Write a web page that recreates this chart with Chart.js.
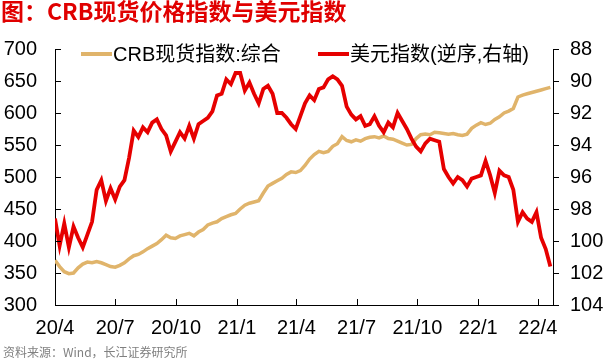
<!DOCTYPE html>
<html>
<head>
<meta charset="utf-8">
<script src="https://cdn.jsdelivr.net/npm/chart.js@4/dist/chart.umd.min.js"></script>
<style>
  html, body { margin: 0; padding: 0; background: #fff; }
</style>
</head>
<body>
<canvas id="myChart" width="605" height="362"></canvas>
<script>
// x axis: days since 2020-04-01, ticks at quarter starts
var tickDays = [0, 91, 183, 275, 365, 456, 548, 640, 730];
var tickLabels = ['20/4', '20/7', '20/10', '21/1', '21/4', '21/7', '21/10', '22/1', '22/4'];

// weekly readings (week 0 = 2020-04-01)
var crb = [
  370, 360, 352, 349, 350, 358, 364, 367, 366, 368,
  366, 363, 360, 359, 362, 366, 372, 377, 379, 383,
  388, 392, 396, 402, 409, 405, 404, 408, 410, 412,
  408, 414, 418, 425, 428, 430, 435, 438, 441, 443,
  450, 456, 459, 461, 463, 475, 486, 490, 494, 498,
  504, 508, 507, 510, 518, 528, 535, 540, 538, 540,
  548, 552, 563, 557, 555, 558, 556, 560, 562, 563,
  561, 564, 560, 559, 556, 553, 550, 551, 560, 566,
  567, 566, 570, 569, 568, 567, 568, 566, 565, 567,
  576, 581, 585, 582, 584, 590, 594, 600, 603, 607,
  625, 628, 630, 632, 634, 636, 638, 640
];
var usd = [
  98.6, 100.3, 98.9, 100.4, 99.1, 99.8, 100.4, 99.6, 98.8, 96.8,
  96.2, 97.5, 96.7, 97.4, 96.6, 96.2, 94.8, 93.1, 93.5, 92.9,
  93.2, 92.6, 92.4, 93.0, 93.4, 94.4, 93.8, 93.2, 93.6, 92.8,
  93.6, 92.7, 92.5, 92.3, 91.9, 90.9, 90.8, 89.9, 90.2, 89.5,
  89.5, 90.6, 90.1, 90.8, 91.4, 90.5, 90.3, 90.8, 92.0, 92.0,
  92.3, 92.7, 93.0, 92.2, 91.4, 90.9, 91.2, 90.5, 90.4, 89.9,
  89.7, 89.9, 90.3, 91.6, 92.1, 92.4, 92.2, 92.8, 92.7, 92.2,
  92.8, 93.2, 92.6, 92.9, 92.0, 92.5, 93.0, 93.6, 94.1, 94.4,
  93.9, 93.6, 93.7, 93.8, 95.5, 96.0, 96.4, 96.0, 96.2, 96.6,
  96.1, 96.0, 95.9, 95.0, 95.9, 97.0, 95.6, 95.9, 96.0, 96.8,
  98.8, 98.2, 98.6, 98.8, 98.2, 99.8, 100.5, 101.6
];

var seriesNames = ['CRB现货指数:综合', '美元指数(逆序,右轴)'];
var titleText = '图：CRB现货价格指数与美元指数';
var sourceText = '资料来源：Wind，长江证券研究所';

var GOLD = '#e0b46b';
var RED = '#e60000';
var FONT = '"Liberation Sans", Arial, "Noto Sans CJK SC", sans-serif';

function pts(vals) {
  var out = [];
  for (var i = 0; i < vals.length; i++) out.push({ x: i * 7, y: vals[i] });
  return out;
}

// ticks drawn inward on left/bottom, outward on right; legend, title and source
var decor = {
  id: 'decor',
  afterDraw: function (chart) {
    var ctx = chart.ctx, a = chart.chartArea;
    var sx = chart.scales.x, yl = chart.scales.y, yr = chart.scales.y1;
    ctx.save();
    ctx.strokeStyle = '#000';
    ctx.lineWidth = 1;
    ctx.beginPath();
    yl.ticks.forEach(function (t) {
      var y = Math.round(yl.getPixelForValue(t.value)) + 0.5;
      ctx.moveTo(a.left, y); ctx.lineTo(a.left + 6, y);
    });
    yr.ticks.forEach(function (t) {
      var y = Math.round(yr.getPixelForValue(t.value)) + 0.5;
      ctx.moveTo(a.right, y); ctx.lineTo(a.right + 6, y);
    });
    sx.ticks.forEach(function (t) {
      var x = Math.round(sx.getPixelForValue(t.value)) + 0.5;
      ctx.moveTo(x, a.bottom); ctx.lineTo(x, a.bottom - 6);
    });
    ctx.stroke();

    // legend
    var ds = chart.data.datasets;
    var lx = [81, 318];
    ctx.font = '20px ' + FONT;
    ctx.textBaseline = 'middle';
    ctx.textAlign = 'left';
    ctx.lineWidth = 4;
    for (var i = 0; i < 2; i++) {
      ctx.strokeStyle = ds[i].borderColor;
      ctx.beginPath();
      ctx.moveTo(lx[i], 54); ctx.lineTo(lx[i] + 31, 54);
      ctx.stroke();
      ctx.fillStyle = '#000';
      ctx.fillText(ds[i].label, lx[i] + 32, 55);
    }

    // title
    ctx.font = 'bold 23px "Noto Sans CJK SC", sans-serif';
    ctx.fillStyle = '#e00000';
    ctx.textBaseline = 'alphabetic';
    ctx.fillText(titleText, 1, 20);

    // source
    ctx.font = '12px "Noto Sans CJK SC", sans-serif';
    ctx.fillStyle = '#808080';
    ctx.fillText(sourceText, 3, 357);
    ctx.restore();
  }
};

var ctx = document.getElementById('myChart');
var grafica = new Chart(ctx, {
  type: 'line',
  data: {
    datasets: [{
      label: seriesNames[0],
      data: pts(crb),
      borderColor: GOLD,
      borderWidth: 3.5,
      pointRadius: 0,
      yAxisID: 'y',
      order: 2
    }, {
      label: seriesNames[1],
      data: pts(usd),
      borderColor: RED,
      borderWidth: 3.8,
      pointRadius: 0,
      yAxisID: 'y1',
      order: 1
    }]
  },
  options: {
    responsive: false,
    animation: false,
    devicePixelRatio: 1,
    layout: { padding: { top: 49, left: 0, right: 0, bottom: 0 } },
    plugins: { legend: { display: false }, title: { display: false }, tooltip: { enabled: false } },
    scales: {
      x: {
        type: 'linear',
        min: 0,
        max: 753,
        grid: { display: false, drawTicks: false },
        border: { display: true, color: '#000', width: 1 },
        afterBuildTicks: function (s) { s.ticks = tickDays.map(function (v) { return { value: v }; }); },
        afterFit: function (s) { s.height = 57; },
        ticks: {
          autoSkip: false,
          maxRotation: 0,
          padding: 11,
          color: '#000',
          font: { size: 20, family: FONT },
          callback: function (v, i) { return tickLabels[i]; }
        }
      },
      y: {
        position: 'left',
        min: 300,
        max: 700,
        grid: { display: false, drawTicks: false },
        border: { display: true, color: '#000', width: 1 },
        afterFit: function (s) { s.width = 55; },
        ticks: { stepSize: 50, padding: 18, color: '#000', font: { size: 20, family: FONT } }
      },
      y1: {
        position: 'right',
        min: 88,
        max: 104,
        reverse: true,
        grid: { display: false, drawTicks: false },
        border: { display: true, color: '#000', width: 1 },
        afterFit: function (s) { s.width = 52; },
        ticks: { stepSize: 2, padding: 17, color: '#000', font: { size: 20, family: FONT } }
      }
    }
  },
  plugins: [decor]
});
</script>
</body>
</html>
